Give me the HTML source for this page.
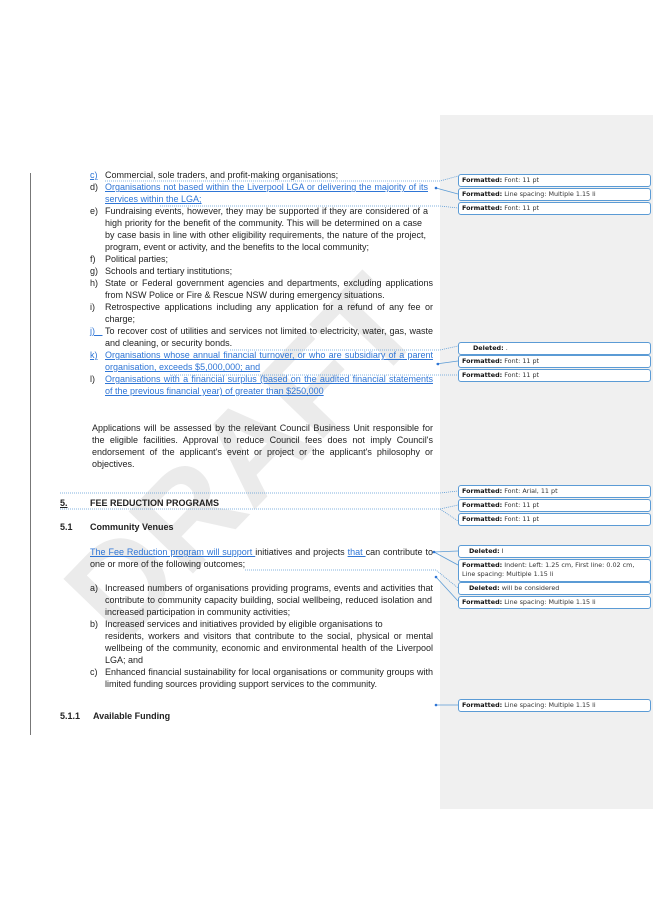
<!DOCTYPE html>
<html><head><meta charset="utf-8"><style>
*{margin:0;padding:0;box-sizing:border-box}
body{width:653px;height:924px;background:#fff;position:relative;overflow:hidden;font-family:"Liberation Sans",Arial,sans-serif;color:#222}
.l{position:absolute;font-size:9px;line-height:12px;white-space:nowrap}
.j{text-align:justify;text-align-last:justify;white-space:normal}
.b{color:#2e75d6;text-decoration:underline}
.h{font-weight:bold}
.c{position:absolute;left:458px;width:193px;background:#fff;border:1px solid #5b9bd5;border-radius:3px;font-family:"DejaVu Sans",sans-serif;font-size:6.4px;line-height:9px;padding:1px 3px;color:#333;white-space:nowrap}
.c b{color:#111}
</style></head><body>
<div style="position:absolute;left:440px;top:115px;width:213px;height:694px;background:#f0f0f0"></div>
<div style="position:absolute;left:30px;top:173px;width:1px;height:562px;background:#777"></div>
<svg style="position:absolute;left:0;top:0" width="653" height="924">
<text x="0" y="0" transform="translate(250,465) rotate(-46)" text-anchor="middle" font-family="Liberation Sans" font-weight="bold" font-size="130" fill="#ebebeb" dominant-baseline="middle">DRAFT</text>
<g stroke="#5b9bd5" stroke-width="0.8" fill="none">
<path d="M105 181 L440 181 L458 176" stroke-dasharray="1,1"/>
<path d="M436 188 L458 194"/>
<path d="M160 206 L440 206 L458 208" stroke-dasharray="1,1"/>
<path d="M230 350 L440 350 L458 346" stroke-dasharray="1,1"/>
<path d="M436 364 L458 361"/>
<path d="M170 375 L440 375 L458 375" stroke-dasharray="1,1"/>
<path d="M60 493 L440 493 L458 491" stroke-dasharray="1,1"/>
<path d="M60 509 L440 509 L458 505 M440 509 L458 521" stroke-dasharray="1,1"/>
<path d="M434 552 L458 551 M434 552 L458 565"/>
<path d="M245 570 L436 570 L458 588" stroke-dasharray="1,1"/>
<path d="M436 577 L458 601"/>
<path d="M436 705 L458 705"/>
</g>
<g fill="#2e75d6"><circle cx="436" cy="188" r="1.3"/><circle cx="434" cy="552" r="1.3"/><circle cx="436" cy="577" r="1.3"/><circle cx="436" cy="705" r="1.3"/><circle cx="438" cy="364" r="1.3"/></g>
</svg>

<div class="l b" style="left:90px;top:169px">c)</div><div class="l" style="left:105px;top:169px">Commercial, sole traders, and profit-making organisations;</div>
<div class="l" style="left:90px;top:181px">d)</div><div class="l j b" style="left:105px;top:181px;width:323px">Organisations not based within the Liverpool LGA or delivering the majority of its</div>
<div class="l b" style="left:105px;top:193px">services within the LGA;</div>
<div class="l" style="left:90px;top:205px">e)</div><div class="l j" style="left:105px;top:205px;width:323px">Fundraising events, however, they may be supported if they are considered of a</div>
<div class="l j" style="left:105px;top:217px;width:317px">high priority for the benefit of the community. This will be determined on a case</div>
<div class="l j" style="left:105px;top:229px;width:321px">by case basis in line with other eligibility requirements, the nature of the project,</div>
<div class="l" style="left:105px;top:241px">program, event or activity, and the benefits to the local community;</div>
<div class="l" style="left:90px;top:253px">f)</div><div class="l" style="left:105px;top:253px">Political parties;</div>
<div class="l" style="left:90px;top:265px">g)</div><div class="l" style="left:105px;top:265px">Schools and tertiary institutions;</div>
<div class="l" style="left:90px;top:277px">h)</div><div class="l j" style="left:105px;top:277px;width:328px">State or Federal government agencies and departments, excluding applications</div>
<div class="l" style="left:105px;top:289px">from NSW Police or Fire &amp; Rescue NSW during emergency situations.</div>
<div class="l" style="left:90px;top:301px">i)</div><div class="l j" style="left:105px;top:301px;width:328px">Retrospective applications including any application for a refund of any fee or</div>
<div class="l" style="left:105px;top:313px">charge;</div>
<div class="l b" style="left:90px;top:325px">j)&nbsp;&nbsp;&nbsp;</div><div class="l j" style="left:105px;top:325px;width:328px">To recover cost of utilities and services not limited to electricity, water, gas, waste</div>
<div class="l" style="left:105px;top:337px">and cleaning, or security bonds.</div>
<div class="l b" style="left:90px;top:349px">k)</div><div class="l j b" style="left:105px;top:349px;width:328px">Organisations whose annual financial turnover, or who are subsidiary of a parent</div>
<div class="l b" style="left:105px;top:361px">organisation, exceeds $5,000,000; and</div>
<div class="l" style="left:90px;top:373px">l)</div><div class="l j b" style="left:105px;top:373px;width:328px">Organisations with a financial surplus (based on the audited financial statements</div>
<div class="l b" style="left:105px;top:385px">of the previous financial year) of greater than $250,000</div>

<div class="l j" style="left:92px;top:422px;width:341px">Applications will be assessed by the relevant Council Business Unit responsible for</div>
<div class="l j" style="left:92px;top:434px;width:341px">the eligible facilities. Approval to reduce Council fees does not imply Council's</div>
<div class="l j" style="left:92px;top:446px;width:341px">endorsement of the applicant's event or project or the applicant's philosophy or</div>
<div class="l" style="left:92px;top:458px">objectives.</div>

<div class="l h" style="left:60px;top:497px"><u>5.</u></div><div class="l h" style="left:90px;top:497px">FEE REDUCTION PROGRAMS</div>
<div class="l h" style="left:60px;top:521px">5.1</div><div class="l h" style="left:90px;top:521px">Community Venues</div>
<div class="l j" style="left:90px;top:546px;width:343px"><span class="b">The Fee Reduction program will support </span>initiatives and projects <span class="b">that </span>can contribute to</div>
<div class="l" style="left:90px;top:558px">one or more of the following outcomes;</div>
<div class="l" style="left:90px;top:582px">a)</div><div class="l j" style="left:105px;top:582px;width:328px">Increased numbers of organisations providing programs, events and activities that</div>
<div class="l j" style="left:105px;top:594px;width:327px">contribute to community capacity building, social wellbeing, reduced isolation and</div>
<div class="l" style="left:105px;top:606px">increased participation in community activities;</div>
<div class="l" style="left:90px;top:618px">b)</div><div class="l" style="left:105px;top:618px">Increased services and initiatives provided by eligible organisations to</div>
<div class="l j" style="left:105px;top:630px;width:328px">residents, workers and visitors that contribute to the social, physical or mental</div>
<div class="l j" style="left:105px;top:642px;width:328px">wellbeing of the community, economic and environmental health of the Liverpool</div>
<div class="l" style="left:105px;top:654px">LGA; and</div>
<div class="l" style="left:90px;top:666px">c)</div><div class="l j" style="left:105px;top:666px;width:328px">Enhanced financial sustainability for local organisations or community groups with</div>
<div class="l" style="left:105px;top:678px">limited funding sources providing support services to the community.</div>
<div class="l h" style="left:60px;top:710px">5.1.1</div><div class="l h" style="left:93px;top:710px">Available Funding</div>

<div class="c" style="top:174px"><b>Formatted:</b> Font: 11 pt</div>
<div class="c" style="top:188px"><b>Formatted:</b> Line spacing:  Multiple 1.15 li</div>
<div class="c" style="top:202px"><b>Formatted:</b> Font: 11 pt</div>
<div class="c" style="top:342px;padding-left:14px"><b>Deleted:</b> .</div>
<div class="c" style="top:355px"><b>Formatted:</b> Font: 11 pt</div>
<div class="c" style="top:369px"><b>Formatted:</b> Font: 11 pt</div>
<div class="c" style="top:485px"><b>Formatted:</b> Font: Arial, 11 pt</div>
<div class="c" style="top:499px"><b>Formatted:</b> Font: 11 pt</div>
<div class="c" style="top:513px"><b>Formatted:</b> Font: 11 pt</div>
<div class="c" style="top:545px;padding-left:10px"><b>Deleted:</b> I</div>
<div class="c" style="top:559px;height:23px"><b>Formatted:</b> Indent: Left:  1.25 cm, First line:  0.02 cm,<br>Line spacing:  Multiple 1.15 li</div>
<div class="c" style="top:582px;padding-left:10px"><b>Deleted:</b>  will be considered</div>
<div class="c" style="top:596px"><b>Formatted:</b> Line spacing:  Multiple 1.15 li</div>
<div class="c" style="top:699px"><b>Formatted:</b> Line spacing:  Multiple 1.15 li</div>
</body></html>
